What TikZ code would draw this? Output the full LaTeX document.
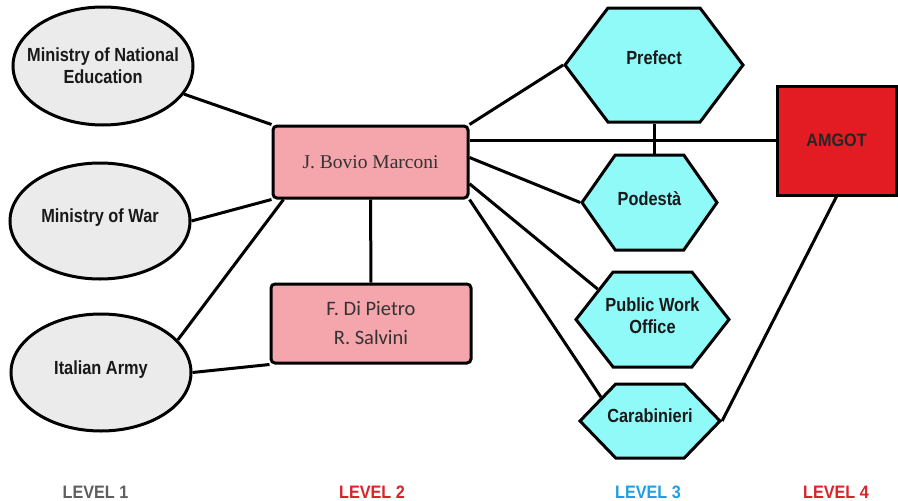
\documentclass[tikz,border=0pt]{standalone}
\usepackage{fontspec}
\setmainfont{Liberation Sans}
\newfontfamily\boxsans[FakeStretch=0.86]{Liberation Sans}
\newfontfamily\levelsans[FakeStretch=0.9]{Liberation Sans}
\newfontfamily\bovioserif{Liberation Serif}
\newfontfamily\namesans{Carlito}
\usetikzlibrary{shapes.geometric,shapes.symbols,backgrounds,calc}

\definecolor{minfill}{HTML}{EBEBEB}
\definecolor{pinkfill}{HTML}{F4A6AC}
\definecolor{cyanfill}{HTML}{90FAF9}
\definecolor{amgotred}{HTML}{E31B23}
\definecolor{lvgray}{HTML}{5E5E5E}
\definecolor{lvred}{HTML}{D8232A}
\definecolor{lvblue}{HTML}{1D9FE2}

\tikzset{
  ministry/.style={ellipse, draw, line width=3pt, fill=minfill, minimum width=180pt, minimum height=117pt, inner sep=0pt},
  office/.style={signal, signal to=west and east, draw, line width=3pt, fill=cyanfill, inner sep=0pt},
  person/.style={rectangle, rounded corners=4pt, draw, line width=3pt, fill=pinkfill},
  boxtext/.style={font=\boxsans\bfseries\fontsize{19}{22}\selectfont, text=black!90, align=center},
  level/.style={font=\levelsans\bfseries\fontsize{18}{18}\selectfont},
  link/.style={line width=3pt}
}

\begin{document}
\begin{tikzpicture}[x=1pt, y=-1pt]
\useasboundingbox (0,0) rectangle (898,501);

% Level 1
\node[ministry, minimum height=118pt, label={[boxtext]center:Ministry of National\\Education}] (mne) at (103,66) {};
\node[ministry, minimum height=116pt, label={[boxtext,yshift=3pt]center:Ministry of War}] (mow) at (100,221) {};
\node[ministry, label={[boxtext,yshift=3pt]center:Italian Army}] (army) at (101,372.5) {};

% Level 2
\node[person, minimum width=195pt, minimum height=72pt, text=black!80, font=\bovioserif\fontsize{19.5}{21}\selectfont] (bovio) at (370.5,162) {J. Bovio Marconi};
\node[person, minimum width=200pt, minimum height=79pt, align=center, text=black!80, font=\namesans\fontsize{20.5}{29}\selectfont] (fdp) at (371,323.5) {F. Di Pietro\\R. Salvini};

% Level 3
\node[office, minimum width=178pt, minimum height=114pt, signal pointer angle=106, label={[boxtext,yshift=7pt]center:Prefect}] (pref) at (654,65) {};
\node[office, minimum width=135pt, minimum height=95pt, signal pointer angle=110, label={[boxtext,yshift=4pt]center:Podestà}] (pod) at (649.5,202.5) {};
\node[office, minimum width=153pt, minimum height=95pt, signal pointer angle=104, label={[boxtext,yshift=4pt]center:Public Work\\Office}] (pwo) at (652.5,319.5) {};
\node[office, minimum width=140pt, minimum height=74pt, signal pointer angle=92, label={[boxtext,yshift=5pt]center:Carabinieri}] (carab) at (650,421) {};

% Level 4
\node[rectangle, draw, line width=3pt, fill=amgotred, minimum width=119pt, minimum height=109pt, text=black!85, font=\levelsans\bfseries\fontsize{18}{18}\selectfont] (amgot) at (836.5,140.5) {AMGOT};

% level captions
\node[level, text=lvgray] (lev1) at (95.5,492.5) {LEVEL 1};
\node[level, text=lvred] (lev2) at (372,492.5) {LEVEL 2};
\node[level, text=lvblue] (lev3) at (648,492.5) {LEVEL 3};
\node[level, text=lvred] (lev4) at (836,492.5) {LEVEL 4};

% connectors
\begin{scope}[on background layer]
\draw[link] (mne) -- (bovio.north west);
\draw[link] (mow.east) -- (bovio.south west);
\draw[link] (army.23) -- ([xshift=12pt]bovio.south west);
\draw[link] (army.east) -- (fdp.south west);
\draw[link] (bovio.south) -- (fdp.north);
\draw[link] (bovio.north east) -- (pref.180);
\draw[link] (bovio.east |- amgot.west) -- (amgot.west);
\draw[link] (pref.-90) -- (pref.-90 |- pod.90);
\draw[link] ($(bovio.north east)!0.44!(bovio.south east)$) -- (pod.180);
\draw[link] ($(bovio.north east)!0.79!(bovio.south east)$) -- (pwo.151);
\draw[link] (bovio.south east) -- (carab.154);
\draw[link] (carab.0) -- (amgot.south);
\end{scope}

\end{tikzpicture}
\end{document}
